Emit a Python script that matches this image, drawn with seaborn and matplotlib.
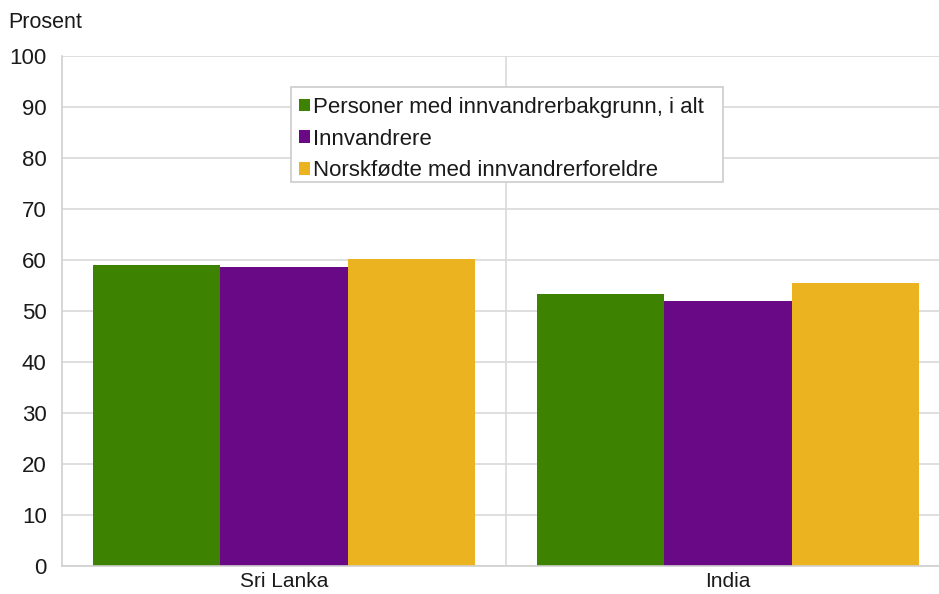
import matplotlib
matplotlib.use("Agg")
import matplotlib.pyplot as plt
import seaborn as sns
import pandas as pd
from matplotlib.patches import Patch, Rectangle

categories = ["Sri Lanka", "India"]
series = ["Personer med innvandrerbakgrunn, i alt", "Innvandrere", "Norskfødte med innvandrerforeldre"]
values_total = [59.0, 53.4]
values_innv = [58.6, 52.0]
values_norsk = [60.1, 55.5]
colors = ["#3d8200", "#690986", "#ebb320"]
yticks = [0, 10, 20, 30, 40, 50, 60, 70, 80, 90, 100]

rows = []
for s, vals in zip(series, [values_total, values_innv, values_norsk]):
    for c, v in zip(categories, vals):
        rows.append({"Land": c, "Gruppe": s, "Prosent": v})
df = pd.DataFrame(rows)

sns.set_theme(style="white")
plt.rcParams["font.family"] = ["Liberation Sans", "DejaVu Sans"]

W, H = 939, 594
fig = plt.figure(figsize=(W/100, H/100), dpi=100)
ax = fig.add_axes([62/W, 1-566/H, 888/W, 510/H])

sns.barplot(data=df, x="Land", y="Prosent", hue="Gruppe", order=categories,
            hue_order=series, palette=colors, width=0.86, saturation=1,
            linewidth=0, ax=ax, legend=False, gap=0)

ax.set_xlim(-0.5, 1.5)
ax.set_ylim(0, 100)
ax.set_yticks(yticks)
ax.set_yticklabels([str(t) for t in yticks], fontsize=16, color="#1a1a1a")
ax.tick_params(axis="y", length=0, pad=11)
ax.tick_params(axis="x", length=0, pad=4, labelsize=15, labelcolor="#1a1a1a")
ax.set_xlabel("")
ax.set_ylabel("")

ax.set_axisbelow(True)
ax.yaxis.grid(True, color="#d9d9d9", linewidth=1.2)
ax.axvline(0.5, color="#d9d9d9", linewidth=1.2, zorder=0)
for side in ["top", "right"]:
    ax.spines[side].set_visible(False)
for side in ["left", "bottom"]:
    ax.spines[side].set_color("#d0d0d0")
    ax.spines[side].set_linewidth(1.2)

# legend frame (drawn manually to match the reference's box size)
frame = Rectangle((291/W, 1-182/H), (723-291)/W, (182-87)/H,
                  transform=fig.transFigure, facecolor="white",
                  edgecolor="#cccccc", linewidth=1.2, zorder=5, clip_on=False)
ax.add_artist(frame)

handles = [Patch(facecolor=c, edgecolor="none") for c in colors]
leg = ax.legend(handles, series, loc="upper left", bbox_to_anchor=((290-62)/888, (566-88)/510),
                fontsize=16, frameon=False, handlelength=0.5, handleheight=0.5,
                handletextpad=0.15, labelspacing=0.48, borderpad=0.4, borderaxespad=0)
leg.set_zorder(6)
for t in leg.get_texts():
    t.set_color("#1a1a1a")

fig.text(8/W, 1-22/H, "Prosent", fontsize=15.5, va="center", ha="left", color="#1a1a1a")

fig.savefig("out.png", dpi=100)
